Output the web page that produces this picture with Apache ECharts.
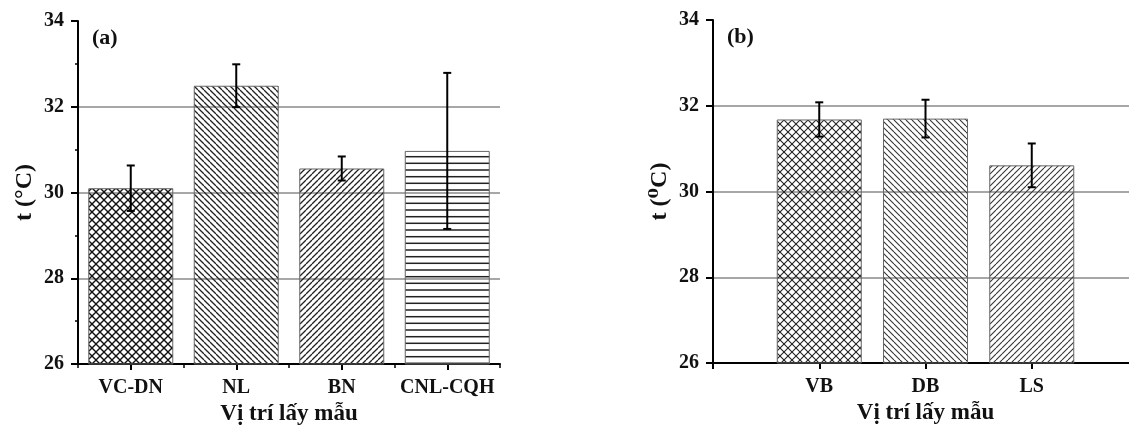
<!DOCTYPE html>
<html>
<head>
<meta charset="utf-8">
<script src="https://cdn.jsdelivr.net/npm/echarts@6/dist/echarts.min.js"></script>
<style>
html,body{margin:0;padding:0;background:#fff;overflow:hidden;}
#chart{width:1140px;height:425px;}
</style>
</head>
<body>
<div id="chart"></div>
<script>
// ---- data ----
var categoriesA = ['VC-DN', 'NL', 'BN', 'CNL-CQH'];
var valuesA = [30.1, 32.49, 30.56, 30.97];
var errorsA = [0.53, 0.5, 0.28, 1.82];

var categoriesB = ['VB', 'DB', 'LS'];
var valuesB = [31.68, 31.70, 30.61];
var errorsB = [0.40, 0.44, 0.51];

var xTitle = 'Vị trí lấy mẫu';
var yTitleA = 't (°C)';
var yTitleB = 't (⁰C)';
var panelA = '(a)';
var panelB = '(b)';

// ---- hatch patterns ----
function makeCanvas(w, h) {
  var c = document.createElement('canvas');
  c.width = w; c.height = h;
  return c;
}
function diag(ctx, s, dir) {
  for (var k = -1; k <= 1; k++) {
    ctx.beginPath();
    if (dir === 'back') { ctx.moveTo(k * s, 0); ctx.lineTo(k * s + s, s); }
    else { ctx.moveTo(k * s, s); ctx.lineTo(k * s + s, 0); }
    ctx.stroke();
  }
}
function pattern(type, s, lw, color) {
  var c, ctx;
  if (type === 'horiz') {
    c = makeCanvas(20, 20);
    ctx = c.getContext('2d');
    ctx.fillStyle = color;
    [3.3, 10, 16.7].forEach(function (y) { ctx.fillRect(0, y - lw / 2, 20, lw); });
  } else {
    c = makeCanvas(s, s);
    ctx = c.getContext('2d');
    ctx.strokeStyle = color;
    ctx.lineWidth = lw;
    if (type === 'cross') { diag(ctx, s, 'back'); diag(ctx, s, 'fwd'); }
    else diag(ctx, s, type);
  }
  return { image: c, repeat: 'repeat' };
}
var patternsA = [
  pattern('cross', 8, 1.35, '#111'),
  pattern('back', 6, 1.3, '#222'),
  pattern('fwd', 6, 1.3, '#222'),
  pattern('horiz', 0, 1.5, '#222')
];
var patternsB = [
  pattern('cross', 8, 1.1, '#222'),
  pattern('back', 6, 1.1, '#333'),
  pattern('fwd', 6, 1.1, '#333')
];

var serif = '"Liberation Serif", "DejaVu Serif", serif';
var labelStyle = { fontFamily: serif, fontWeight: 'bold', fontSize: 20, color: '#111' };
var axisLineStyle = { color: '#000', width: 2 };

function yAxisCfg(gridIndex, name, minor) {
  return {
    type: 'value', gridIndex: gridIndex, min: 26, max: 34, interval: 2,
    name: name, nameLocation: 'middle', nameGap: 41, nameRotate: 90,
    nameTextStyle: { fontFamily: serif, fontWeight: 'bold', fontSize: 24, color: '#111' },
    axisLine: { show: true, lineStyle: axisLineStyle },
    axisTick: { show: true, length: 7, lineStyle: { color: '#000', width: 2 } },
    minorTick: { show: minor, splitNumber: 2, length: 3, lineStyle: { color: '#000', width: 1.5 } },
    axisLabel: Object.assign({ margin: 14 }, labelStyle),
    splitLine: { show: true, showMinLine: false, showMaxLine: false, lineStyle: { color: '#8a8a8a', width: 1.6 } }
  };
}

var paddedB = [''].concat(categoriesB).concat(['']);
var barDataB = ['-'].concat(valuesB).concat(['-']);

function errRender(params, api) {
  var x = api.value(0), lo = api.value(1), hi = api.value(2);
  var pHi = api.coord([x, hi]);
  var pLo = api.coord([x, lo]);
  var cap = 4;
  var st = { stroke: '#000', lineWidth: 2 };
  return {
    type: 'group',
    children: [
      { type: 'line', shape: { x1: pHi[0], y1: pHi[1], x2: pLo[0], y2: pLo[1] }, style: st },
      { type: 'line', shape: { x1: pHi[0] - cap, y1: pHi[1], x2: pHi[0] + cap, y2: pHi[1] }, style: st },
      { type: 'line', shape: { x1: pLo[0] - cap, y1: pLo[1], x2: pLo[0] + cap, y2: pLo[1] }, style: st }
    ]
  };
}

var errDataA = valuesA.map(function (v, i) { return [i, v - errorsA[i], v + errorsA[i]]; });
var errDataB = valuesB.map(function (v, i) { return [i + 1, v - errorsB[i], v + errorsB[i]]; });

var titleStyle = { fontFamily: serif, fontWeight: 'bold', fontSize: 22, color: '#111' };

var option = {
  backgroundColor: '#fff',
  animation: false,
  title: [
    { text: panelA, left: 92, top: 27, padding: 0, textStyle: titleStyle },
    { text: panelB, left: 727, top: 26, padding: 0, textStyle: titleStyle }
  ],
  grid: [
    { left: 78, top: 21, width: 422, height: 343, outerBoundsMode: 'none', containLabel: false },
    { left: 713, top: 20, width: 425, height: 343, outerBoundsMode: 'none', containLabel: false }
  ],
  xAxis: [
    {
      type: 'category', gridIndex: 0, data: categoriesA, boundaryGap: true,
      name: xTitle, nameLocation: 'middle', nameGap: 39,
      nameTextStyle: { fontFamily: serif, fontWeight: 'bold', fontSize: 23, color: '#111' },
      axisLine: { show: true, lineStyle: axisLineStyle },
      axisTick: { show: true, alignWithLabel: true, length: 6, lineStyle: { color: '#000', width: 2 } },
      axisLabel: Object.assign({ margin: 14, interval: 0 }, labelStyle),
      splitLine: { show: false }
    },
    {
      type: 'category', gridIndex: 0, data: categoriesA, boundaryGap: true, position: 'bottom',
      axisLine: { show: false },
      axisTick: { show: true, alignWithLabel: false, length: 4, lineStyle: { color: '#000', width: 1.5 } },
      axisLabel: { show: false },
      splitLine: { show: false }
    },
    {
      type: 'category', gridIndex: 1, data: paddedB, boundaryGap: false,
      name: xTitle, nameLocation: 'middle', nameGap: 39,
      nameTextStyle: { fontFamily: serif, fontWeight: 'bold', fontSize: 23, color: '#111' },
      axisLine: { show: true, lineStyle: axisLineStyle },
      axisTick: { show: true, length: 6, lineStyle: { color: '#000', width: 2 } },
      axisLabel: Object.assign({ margin: 14, interval: 0 }, labelStyle),
      splitLine: { show: false }
    }
  ],
  yAxis: [yAxisCfg(0, yTitleA, true), yAxisCfg(1, yTitleB, false)],
  series: [
    {
      type: 'bar', xAxisIndex: 0, yAxisIndex: 0, barWidth: 85,
      data: valuesA.map(function (v, i) {
        return { value: v, itemStyle: { color: patternsA[i], borderColor: '#666', borderWidth: 1 } };
      })
    },
    {
      type: 'custom', xAxisIndex: 0, yAxisIndex: 0, renderItem: errRender,
      data: errDataA, z: 5
    },
    {
      type: 'bar', xAxisIndex: 2, yAxisIndex: 1, barWidth: 85,
      data: barDataB.map(function (v, i) {
        if (v === '-') return '-';
        return { value: v, itemStyle: { color: patternsB[i - 1], borderColor: '#666', borderWidth: 1 } };
      })
    },
    {
      type: 'custom', xAxisIndex: 2, yAxisIndex: 1, renderItem: errRender,
      data: errDataB, z: 5
    }
  ]
};

var chart = echarts.init(document.getElementById('chart'), null, { renderer: 'canvas' });
chart.setOption(option);
</script>
</body>
</html>
